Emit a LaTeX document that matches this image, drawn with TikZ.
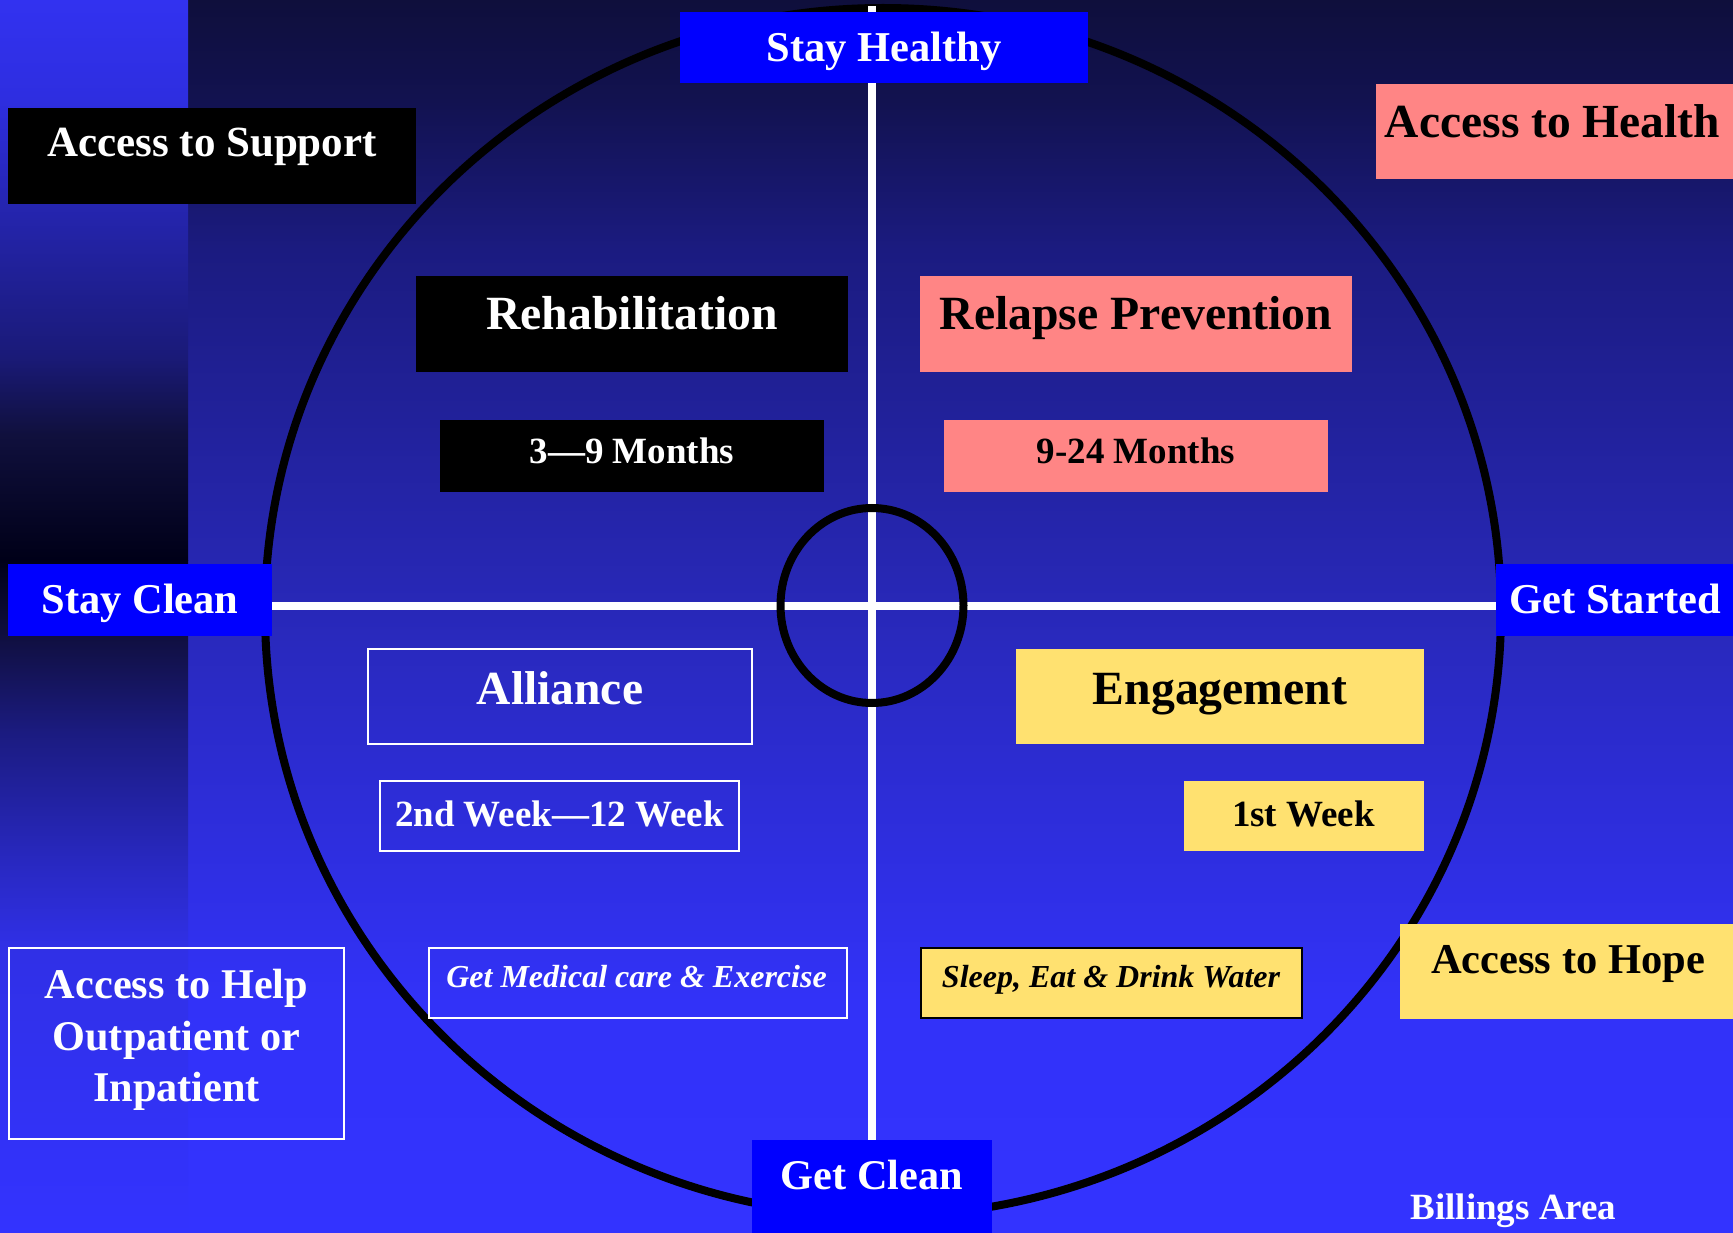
\documentclass[tikz,border=0pt]{standalone}
\usepackage{fontspec}
\setmainfont{Liberation Serif}
\usetikzlibrary{shapes.geometric}
\definecolor{pblue}{HTML}{0000FF}
\definecolor{salmon}{HTML}{FF8585}
\definecolor{sun}{HTML}{FFE170}
\definecolor{bgA}{HTML}{3333FF}
\definecolor{bgB}{HTML}{3232F8}
\definecolor{bgC}{HTML}{2828B8}
\definecolor{bgD}{HTML}{1B1B80}
\definecolor{bgE}{HTML}{121250}
\definecolor{bgF}{HTML}{0F0F3C}
\definecolor{sK}{HTML}{000018}
\definecolor{sA}{HTML}{10103D}
\definecolor{sB}{HTML}{1A1A78}
\definecolor{sC}{HTML}{2525B0}
\definecolor{sD}{HTML}{2E2EE0}
\definecolor{sE}{HTML}{3232F0}
\definecolor{tA}{HTML}{3030E6}
\definecolor{tB}{HTML}{2828C0}
\definecolor{tC}{HTML}{100F40}
\pgfdeclareverticalshading{mainbg}{100bp}{color(0bp)=(bgA); color(25bp)=(bgA); color(34.4bp)=(bgB); color(50.4bp)=(bgC); color(64.9bp)=(bgD); color(70.9bp)=(bgE); color(75bp)=(bgF); color(100bp)=(bgF)}
\pgfdeclareverticalshading{striptop}{100bp}{color(0bp)=(sK); color(25bp)=(sK); color(36.2bp)=(sA); color(43.2bp)=(sB); color(56.7bp)=(sC); color(66.1bp)=(sD); color(75bp)=(sE); color(100bp)=(sE)}
\pgfdeclareverticalshading{stripbot}{100bp}{color(0bp)=(bgA); color(25bp)=(bgA); color(46.3bp)=(tA); color(52.7bp)=(tB); color(62.2bp)=(bgD); color(69.3bp)=(tC); color(75bp)=(sK); color(100bp)=(sK)}
\pgfdeclarelayer{bglayer}
\pgfdeclarelayer{biglayer}
\pgfdeclarelayer{linelayer}
\pgfdeclarelayer{ringlayer}
\pgfsetlayers{bglayer,biglayer,linelayer,ringlayer,main}
\newcommand{\myfs}[1]{\fontsize{#1}{#1}\selectfont}
\tikzset{
  box/.style={rectangle, inner sep=0pt, outer sep=0pt},
  bluebox/.style={box, fill=pblue},
  blackbox/.style={box, fill=black},
  pinkbox/.style={box, fill=salmon},
  yellowbox/.style={box, fill=sun},
  openbox/.style={box, draw=white, line width=2.5pt},
  lbl/.style={anchor=base, inner sep=0pt, outer sep=0pt},
  wlbl/.style={lbl, text=white},
  klbl/.style={lbl, text=black},
  wline/.style={draw=white, line width=8pt},
  ring/.style={ellipse, draw=black, line width=8pt, inner sep=0pt, outer sep=0pt}
}
\begin{document}
\begin{tikzpicture}[x=1pt, y=-1pt]
\useasboundingbox (0,0) rectangle (1733,1233);
\begin{pgfonlayer}{bglayer}
  \shade[shading=mainbg] (0,0) rectangle (1733,1233);
  \shade[shading=striptop] (0,0) rectangle (188,560);
  \shade[shading=stripbot] (0,560) rectangle (188,1233);
\end{pgfonlayer}

% boxes
\node[bluebox, minimum width=408pt, minimum height=71pt] (bx-sh) at (884,47.5) {};
\node[blackbox, minimum width=408pt, minimum height=96pt] (bx-sup) at (212,156) {};
\node[pinkbox, minimum width=357pt, minimum height=95pt] (bx-hea) at (1554.5,131.5) {};
\node[blackbox, minimum width=432pt, minimum height=96pt] (bx-reh) at (632,324) {};
\node[pinkbox, minimum width=432pt, minimum height=96pt] (bx-rel) at (1136,324) {};
\node[blackbox, minimum width=384pt, minimum height=72pt] (bx-m39) at (632,456) {};
\node[pinkbox, minimum width=384pt, minimum height=72pt] (bx-m924) at (1136,456) {};
\node[bluebox, minimum width=264pt, minimum height=72pt] (bx-sc) at (140,600) {};
\node[bluebox, minimum width=237pt, minimum height=72pt] (bx-gs) at (1614.5,600) {};
\node[openbox, minimum width=384pt, minimum height=95pt] (bx-all) at (560,696.5) {};
\node[yellowbox, minimum width=408pt, minimum height=95pt] (bx-eng) at (1220,696.5) {};
\node[openbox, minimum width=359pt, minimum height=70pt] (bx-w212) at (559.5,816) {};
\node[yellowbox, minimum width=240pt, minimum height=70pt] (bx-w1) at (1304,816) {};
\node[openbox, minimum width=418pt, minimum height=70pt] (bx-med) at (638,983) {};
\node[yellowbox, draw=black, line width=2.5pt, minimum width=381pt, minimum height=70pt] (bx-slp) at (1111.5,983) {};
\node[yellowbox, minimum width=333pt, minimum height=95pt] (bx-hope) at (1566.5,971.5) {};
\node[openbox, minimum width=335pt, minimum height=191pt] (bx-help) at (176.5,1043.5) {};
\node[bluebox, minimum width=240pt, minimum height=93pt] (bx-gc) at (872,1186.5) {};

% texts
\node[wlbl, font=\bfseries\myfs{42.5}] (tx-sh) at (884,62) {Stay Healthy};
\node[wlbl, font=\bfseries\myfs{43}] (tx-sup) at (212,157) {Access to Support};
\node[klbl, font=\bfseries\myfs{47.5}] (tx-hea) at (1552.5,138) {Access to Health};
\node[wlbl, font=\bfseries\myfs{47.7}] (tx-reh) at (632,330) {Rehabilitation};
\node[klbl, font=\bfseries\myfs{47.7}] (tx-rel) at (1136,330) {Relapse Prevention};
\node[wlbl, font=\bfseries\myfs{37}] (tx-m39) at (632,463) {3—9 Months};
\node[klbl, font=\bfseries\myfs{37}] (tx-m924) at (1136,463) {9-24 Months};
\node[wlbl, font=\bfseries\myfs{42.5}] (tx-sc) at (140,613) {Stay Clean};
\node[wlbl, font=\bfseries\myfs{42.5}] (tx-gs) at (1615,613) {Get Started};
\node[wlbl, font=\bfseries\myfs{47.5}] (tx-all) at (560,704) {Alliance};
\node[klbl, font=\bfseries\myfs{47.7}] (tx-eng) at (1220,704) {Engagement};
\node[wlbl, font=\bfseries\myfs{37}] (tx-w212) at (559.5,826) {2nd Week—12 Week};
\node[klbl, font=\bfseries\myfs{37}] (tx-w1) at (1303.5,826) {1st Week};
\node[wlbl, font=\bfseries\itshape\myfs{32}] (tx-med) at (636.5,987) {Get Medical care \& Exercise};
\node[klbl, font=\bfseries\itshape\myfs{32}] (tx-slp) at (1111,987) {Sleep, Eat \& Drink Water};
\node[klbl, font=\bfseries\myfs{42.5}] (tx-hope) at (1568,973) {Access to Hope};
\node[wlbl, font=\bfseries\myfs{42.3}] (tx-help1) at (176.5,998) {Access to Help};
\node[wlbl, font=\bfseries\myfs{42.3}] (tx-help2) at (176.5,1050) {Outpatient or};
\node[wlbl, font=\bfseries\myfs{42.3}] (tx-help3) at (176.5,1101) {Inpatient};
\node[wlbl, font=\bfseries\myfs{42.3}] (tx-gc) at (872,1189) {Get Clean};
\node[wlbl, font=\bfseries\myfs{37}] (tx-bil) at (1513.5,1219) {Billings Area};

% big ellipse
\begin{pgfonlayer}{biglayer}
  \node[ring, minimum width=1236pt, minimum height=1208pt] (bigring) at (883,612) {};
\end{pgfonlayer}
% cross lines
\coordinate (hc) at (872,606);
\coordinate (vtop) at (872,6);
\begin{pgfonlayer}{linelayer}
  \draw[wline] (vtop) -- (bx-gc.north);
  \draw[wline] (bx-sc.east |- hc) -- (bx-gs.west |- hc);
\end{pgfonlayer}
\begin{pgfonlayer}{ringlayer}
  \node[ring, minimum width=183pt, minimum height=195pt] (smallring) at (872,605.5) {};
\end{pgfonlayer}
\end{tikzpicture}
\end{document}
